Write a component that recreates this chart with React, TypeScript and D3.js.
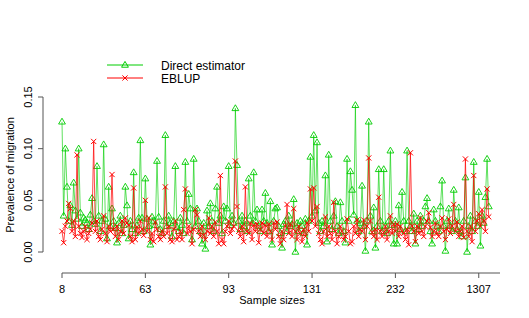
import React from "react";
import * as d3 from "d3";

const direct: number[] = [
  0.126, 0.035, 0.100, 0.063, 0.030, 0.045, 0.026, 0.067, 0.040, 0.032,
  0.100, 0.038, 0.025, 0.033, 0.031, 0.028, 0.022, 0.036, 0.052, 0.030,
  0.027, 0.083, 0.035, 0.020, 0.030, 0.104, 0.032, 0.013, 0.063, 0.025,
  0.042, 0.030, 0.023, 0.009, 0.028, 0.035, 0.018, 0.026, 0.063, 0.045,
  0.013, 0.030, 0.022, 0.077, 0.018, 0.026, 0.033, 0.108, 0.033, 0.020,
  0.071, 0.032, 0.025, 0.007, 0.034, 0.030, 0.026, 0.088, 0.034, 0.022,
  0.018, 0.030, 0.113, 0.025, 0.035, 0.028, 0.015, 0.030, 0.083, 0.024,
  0.020, 0.033, 0.026, 0.018, 0.087, 0.030, 0.056, 0.042, 0.012, 0.090,
  0.025, 0.042, 0.030, 0.020, 0.008, 0.028, 0.003, 0.040, 0.025, 0.047,
  0.030, 0.020, 0.042, 0.063, 0.028, 0.035, 0.018, 0.044, 0.030, 0.042,
  0.083, 0.026, 0.035, 0.028, 0.139, 0.084, 0.030, 0.022, 0.035, 0.025,
  0.030, 0.020, 0.071, 0.035, 0.028, 0.077, 0.030, 0.041, 0.025, 0.020,
  0.041, 0.030, 0.057, 0.028, 0.020, 0.049, 0.007, 0.030, 0.042, 0.043,
  0.025, 0.018, 0.004, 0.027, 0.030, 0.020, 0.035, 0.025, 0.027, 0.051,
  0.000, 0.028, 0.020, 0.030, 0.025, 0.018, 0.032, 0.007, 0.030, 0.092,
  0.035, 0.113, 0.040, 0.106, 0.028, 0.020, 0.030, 0.025, 0.074, 0.010,
  0.094, 0.030, 0.022, 0.035, 0.049, 0.025, 0.018, 0.048, 0.030, 0.020,
  0.009, 0.090, 0.030, 0.078, 0.060, 0.036, 0.142, 0.030, 0.020, 0.028,
  0.064, 0.025, 0.001, 0.030, 0.126, 0.035, 0.020, 0.043, 0.004, 0.025,
  0.080, 0.030, 0.020, 0.080, 0.025, 0.018, 0.030, 0.098, 0.026, 0.008,
  0.030, 0.008, 0.045, 0.022, 0.058, 0.030, 0.020, 0.098, 0.030, 0.025,
  0.020, 0.037, 0.008, 0.030, 0.022, 0.035, 0.025, 0.030, 0.044, 0.052,
  0.030, 0.020, 0.008, 0.041, 0.030, 0.025, 0.020, 0.044, 0.069, 0.025,
  0.001, 0.030, 0.042, 0.025, 0.020, 0.060, 0.030, 0.022, 0.043, 0.020,
  0.015, 0.030, 0.072, 0.000, 0.025, 0.035, 0.020, 0.087, 0.030, 0.025,
  0.058, 0.006, 0.035, 0.028, 0.053, 0.090, 0.044,
];

const eblup: number[] = [
  0.020, 0.009, 0.025, 0.030, 0.047, 0.042, 0.020, 0.030, 0.015, 0.094,
  0.025, 0.018, 0.014, 0.020, 0.025, 0.012, 0.018, 0.022, 0.028, 0.107,
  0.020, 0.030, 0.015, 0.012, 0.022, 0.035, 0.018, 0.010, 0.025, 0.020,
  0.075, 0.022, 0.015, 0.025, 0.012, 0.020, 0.030, 0.018, 0.033, 0.028,
  0.026, 0.015, 0.010, 0.062, 0.012, 0.024, 0.018, 0.030, 0.022, 0.016,
  0.050, 0.020, 0.033, 0.012, 0.018, 0.010, 0.029, 0.022, 0.015, 0.012,
  0.020, 0.015, 0.063, 0.018, 0.025, 0.012, 0.010, 0.022, 0.030, 0.012,
  0.015, 0.020, 0.012, 0.041, 0.061, 0.018, 0.025, 0.020, 0.008, 0.022,
  0.041, 0.036, 0.020, 0.015, 0.025, 0.016, 0.012, 0.020, 0.033, 0.018,
  0.025, 0.015, 0.029, 0.020, 0.008, 0.074, 0.012, 0.008, 0.020, 0.025,
  0.030, 0.018, 0.022, 0.025, 0.088, 0.044, 0.020, 0.015, 0.025, 0.010,
  0.063, 0.020, 0.018, 0.028, 0.012, 0.026, 0.020, 0.027, 0.009, 0.022,
  0.028, 0.018, 0.026, 0.015, 0.027, 0.020, 0.012, 0.028, 0.022, 0.029,
  0.015, 0.008, 0.020, 0.012, 0.025, 0.046, 0.018, 0.027, 0.015, 0.042,
  0.020, 0.012, 0.025, 0.018, 0.010, 0.022, 0.015, 0.028, 0.020, 0.061,
  0.030, 0.062, 0.025, 0.044, 0.018, 0.012, 0.008, 0.020, 0.034, 0.015,
  0.025, 0.018, 0.012, 0.048, 0.020, 0.008, 0.015, 0.025, 0.020, 0.012,
  0.015, 0.032, 0.020, 0.008, 0.010, 0.025, 0.018, 0.031, 0.015, 0.022,
  0.020, 0.031, 0.012, 0.025, 0.091, 0.030, 0.019, 0.015, 0.022, 0.012,
  0.053, 0.020, 0.015, 0.019, 0.025, 0.012, 0.020, 0.035, 0.018, 0.027,
  0.020, 0.027, 0.015, 0.025, 0.020, 0.018, 0.012, 0.022, 0.007, 0.096,
  0.025, 0.020, 0.010, 0.025, 0.018, 0.033, 0.020, 0.015, 0.025, 0.030,
  0.038, 0.024, 0.015, 0.020, 0.028, 0.018, 0.015, 0.025, 0.033, 0.020,
  0.012, 0.022, 0.032, 0.018, 0.025, 0.046, 0.020, 0.029, 0.015, 0.020,
  0.025, 0.014, 0.090, 0.020, 0.015, 0.025, 0.010, 0.074, 0.020, 0.030,
  0.037, 0.025, 0.041, 0.030, 0.020, 0.061, 0.034,
];

const tickIndex: number[] = [1, 51, 101, 151, 201, 251];
const tickLabels: string[] = ["8", "63", "93", "131", "232", "1307"];
const yTicks: number[] = [0, 0.05, 0.1, 0.15];

const GREEN = "#00cd00";
const RED = "#ff0000";
const FONT = "'Liberation Sans', Arial, Helvetica, sans-serif";

export default function App() {
  const n = direct.length;
  const x = d3.scaleLinear().domain([1, n]).range([62, 62 + (n - 1) * 1.667]);
  const y = d3.scaleLinear().domain([0, 0.15]).range([252, 97]);
  const line = d3
    .line<number>()
    .x((_, i) => x(i + 1))
    .y((d) => y(d));

  const tri = (cx: number, cy: number, s = 3.6) =>
    `M${cx},${cy - s} L${cx + s * 0.95},${cy + s * 0.62} L${cx - s * 0.95},${cy + s * 0.62} Z`;
  const cross = (cx: number, cy: number, s = 2.6) =>
    `M${cx - s},${cy - s} L${cx + s},${cy + s} M${cx - s},${cy + s} L${cx + s},${cy - s}`;

  const axisY = 273;
  const yAxisX = 43;

  return (
    <svg width={529} height={318} style={{ position: "absolute", left: 0, top: 0, background: "#fff" }}>
      {/* series lines */}
      <path d={line(direct) || ""} fill="none" stroke={GREEN} strokeWidth={0.9} strokeOpacity={0.7} />
      {direct.map((d, i) => (
        <path key={"g" + i} d={tri(x(i + 1), y(d))} fill="none" stroke={GREEN} strokeWidth={0.9} />
      ))}
      <path d={line(eblup) || ""} fill="none" stroke={RED} strokeWidth={0.9} strokeOpacity={0.8} />
      {eblup.map((d, i) => (
        <path key={"r" + i} d={cross(x(i + 1), y(d))} fill="none" stroke={RED} strokeWidth={1} />
      ))}

      {/* x axis */}
      <line x1={x(1)} x2={500} y1={axisY} y2={axisY} stroke="#555" strokeWidth={1} />
      {tickIndex.map((t, i) => (
        <g key={"xt" + i}>
          <line x1={x(t)} x2={x(t)} y1={axisY} y2={axisY + 5} stroke="#555" strokeWidth={1} />
          <text x={x(t)} y={293} fontSize={11} fontFamily={FONT} textAnchor="middle" fill="#000">
            {tickLabels[i]}
          </text>
        </g>
      ))}
      <text x={272} y={304} fontSize={11} fontFamily={FONT} textAnchor="middle" fill="#000">
        Sample sizes
      </text>

      {/* y axis */}
      <line x1={yAxisX} x2={yAxisX} y1={y(0)} y2={y(0.15)} stroke="#555" strokeWidth={1} />
      {yTicks.map((t, i) => (
        <g key={"yt" + i}>
          <line x1={yAxisX - 5} x2={yAxisX} y1={y(t)} y2={y(t)} stroke="#555" strokeWidth={1} />
          <text
            transform={`translate(32,${y(t)}) rotate(-90)`}
            fontSize={11}
            fontFamily={FONT}
            textAnchor="middle"
            fill="#000"
          >
            {t.toFixed(2)}
          </text>
        </g>
      ))}
      <text
        transform={`translate(14,175) rotate(-90)`}
        fontSize={11}
        fontFamily={FONT}
        textAnchor="middle"
        fill="#000"
      >
        Prevalence of migration
      </text>

      {/* legend */}
      <line x1={107} x2={143} y1={65} y2={65} stroke={GREEN} strokeWidth={1} />
      <path d={tri(125, 65)} fill="none" stroke={GREEN} strokeWidth={1} />
      <text x={161} y={69.5} fontSize={12} fontFamily={FONT} fill="#000">
        Direct estimator
      </text>
      <line x1={107} x2={143} y1={78} y2={78} stroke={RED} strokeWidth={1} />
      <path d={cross(125, 78)} fill="none" stroke={RED} strokeWidth={1} />
      <text x={161} y={82.5} fontSize={12} fontFamily={FONT} fill="#000">
        EBLUP
      </text>
    </svg>
  );
}
